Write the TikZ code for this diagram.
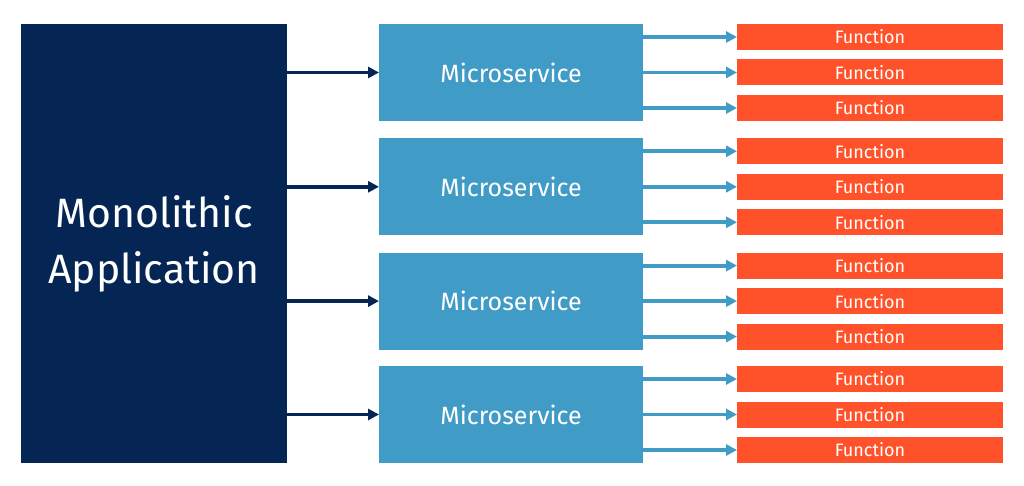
\documentclass[tikz,border=0pt]{standalone}
\usepackage{fontspec}
\setmainfont{Fira Sans}
\usetikzlibrary{arrows.meta}
\definecolor{navy}{RGB}{5,38,84}
\definecolor{msblue}{RGB}{64,156,198}
\definecolor{fnorange}{RGB}{255,82,43}
\tikzset{
  box/.style={rectangle, inner sep=0pt, outer sep=0pt, text=white},
  monobox/.style={box, fill=navy, minimum width=266pt, minimum height=439pt, align=center,
    font=\fontsize{41}{56}\selectfont},
  msbox/.style={box, fill=msblue, minimum width=264pt, minimum height=97pt,
    font=\fontsize{25}{30}\selectfont},
  fnbox/.style={box, fill=fnorange, minimum width=266pt, minimum height=26pt,
    font=\fontsize{18}{22}\selectfont},
  navyarrow/.style={draw=navy, line width=3.8pt, -{Triangle[length=11pt,width=11pt]}},
  bluearrow/.style={draw=msblue, line width=3.8pt, -{Triangle[length=11pt,width=11pt]}},
}
\begin{document}
\begin{tikzpicture}[x=1pt,y=-1pt]
\useasboundingbox (0,0) rectangle (1024,486);
\node[monobox] (mono) at (154,243.5) {Monolithic\\Application};
\foreach \i/\t in {1/24,2/138.3,3/252.6,4/366} {
  \node[msbox] (m\i) at (511,\t+48.5) {Microservice};
  \node[fnbox] (f\i a) at (870,\t+13) {Function};
  \node[fnbox] (f\i b) at (870,\t+48.5) {Function};
  \node[fnbox] (f\i c) at (870,\t+84) {Function};
  \draw[navyarrow] (mono.east |- m\i.west) -- (m\i.west);
  \draw[bluearrow] (m\i.east |- f\i a.west) -- (f\i a.west);
  \draw[bluearrow] (m\i.east |- f\i b.west) -- (f\i b.west);
  \draw[bluearrow] (m\i.east |- f\i c.west) -- (f\i c.west);
}
\end{tikzpicture}
\end{document}
